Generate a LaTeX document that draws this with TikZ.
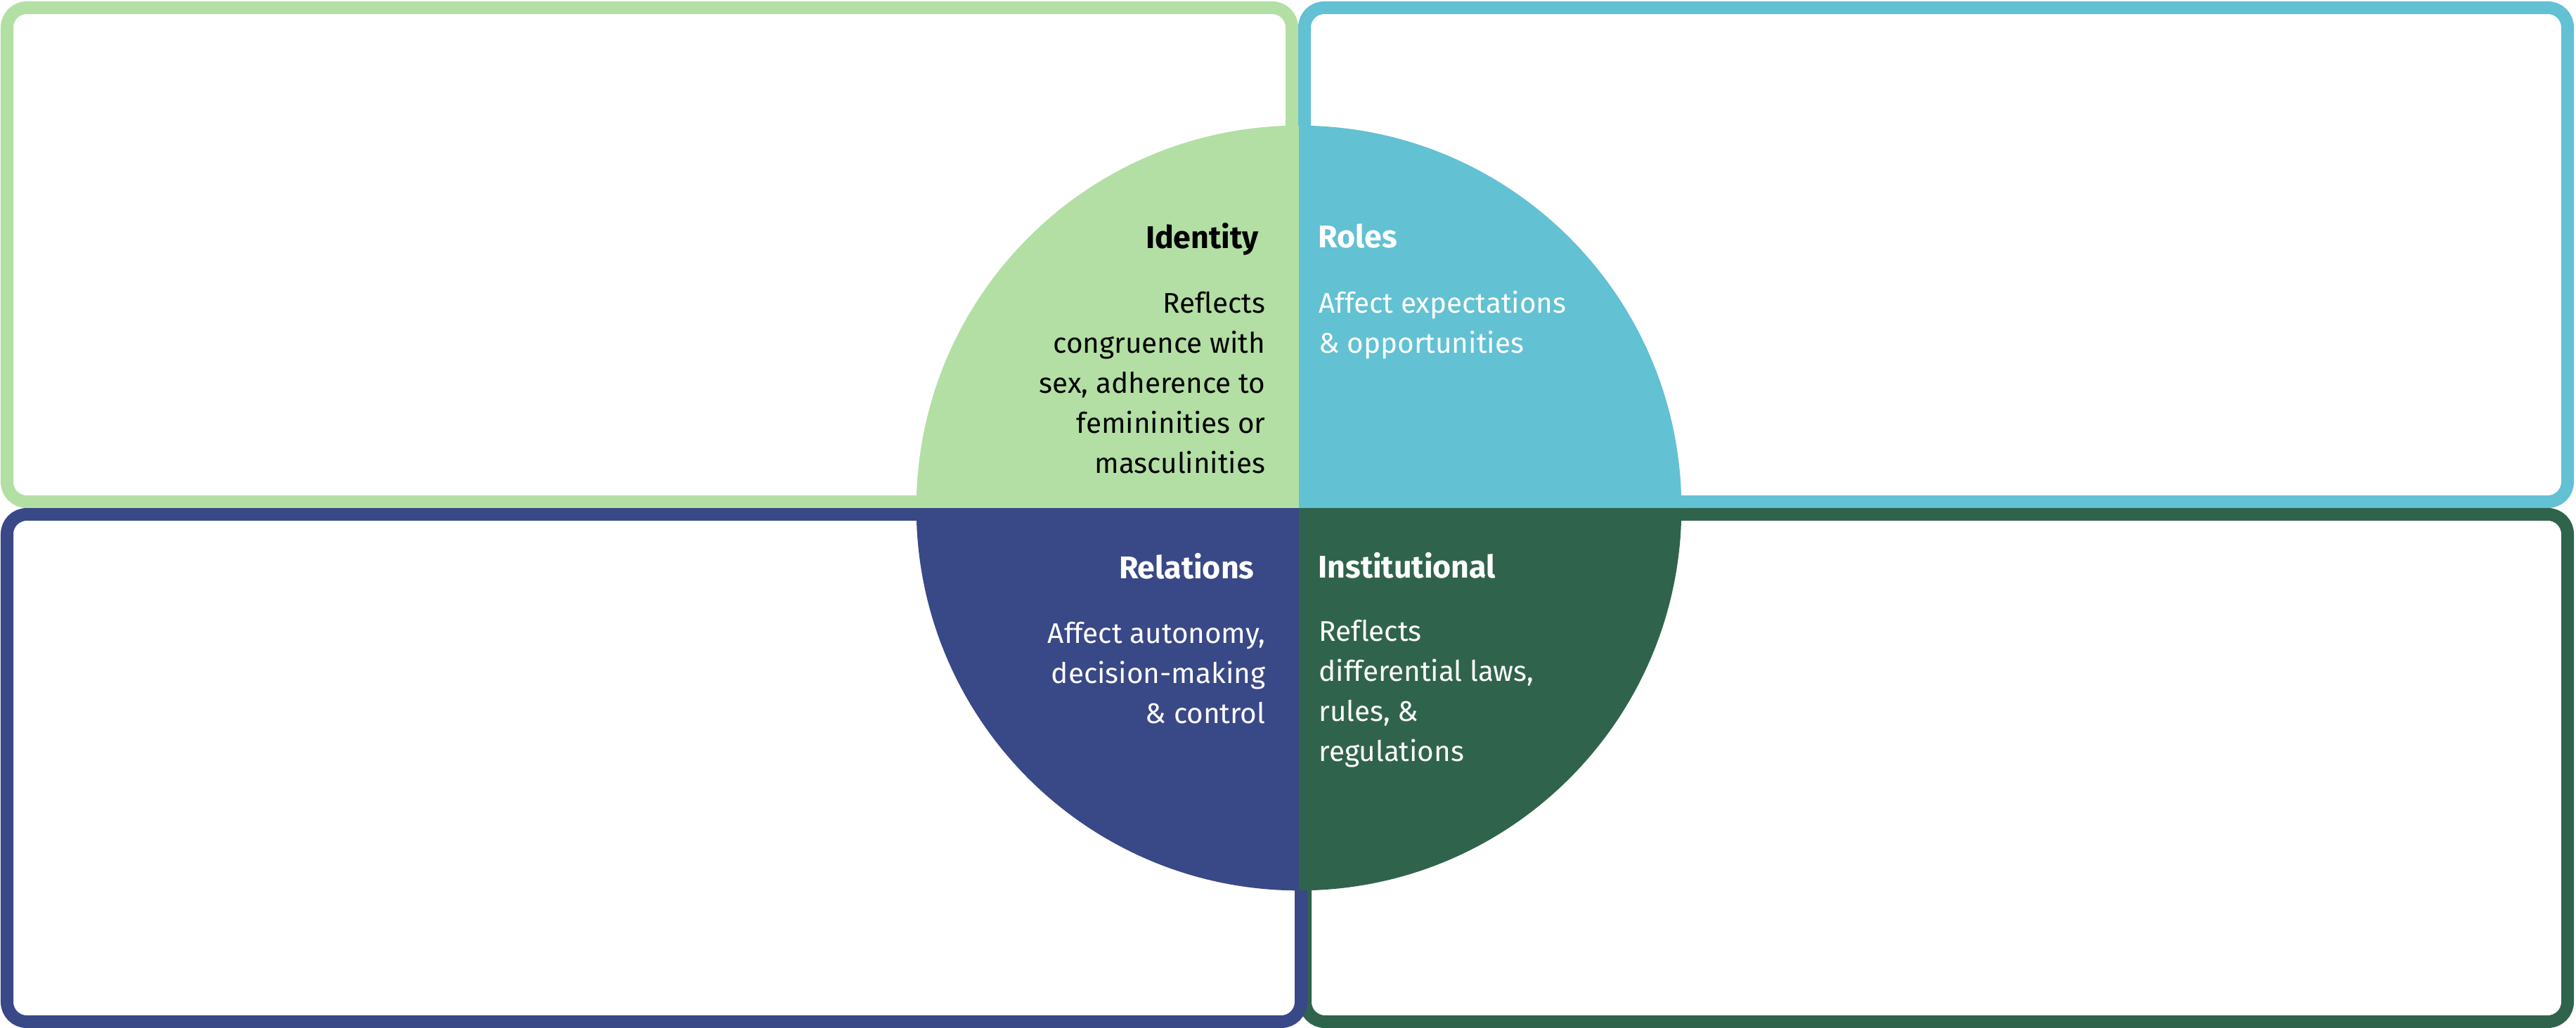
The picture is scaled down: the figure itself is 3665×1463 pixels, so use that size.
\documentclass[tikz,border=0pt]{standalone}
\usepackage{fontspec}
\setmainfont{Fira Sans}[Ligatures=NoCommon]
\usepackage{tikz}
\usetikzlibrary{positioning,calc}

\definecolor{identgreen}{HTML}{B3DFA4}
\definecolor{rolecyan}{HTML}{62C1D3}
\definecolor{relnavy}{HTML}{394886}
\definecolor{instgreen}{HTML}{30634C}

\tikzset{
  quadbox/.style={line width=0.18cm, rounded corners=0.28cm},
  headtext/.style={inner sep=0pt, font=\fontsize{12.7pt}{15pt}\selectfont\bfseries},
  bodytext/.style={inner sep=0pt, font=\fontsize{11.5pt}{16.2pt}\selectfont},
}

\begin{document}
\begin{tikzpicture}[x=0.01cm, y=-0.01cm]
    \useasboundingbox (0,0) rectangle (3665,1463);

    % Outer boxes
    \draw [quadbox, identgreen] (10,11) rectangle (1838,714);
    \draw [quadbox, rolecyan] (1856,11) rectangle (3653,714);
    \draw [quadbox, instgreen] (1857,732) rectangle (3653,1454);
    \draw [quadbox, relnavy] (10,732) rectangle (1851,1454);

    % Centre circle in four quarters
    \coordinate (ctr) at (1848,723);
    \fill [identgreen] (ctr) -- ++(180:5.44cm) arc[start angle=180, end angle=90, radius=5.44cm] -- cycle;
    \fill [rolecyan] (ctr) -- ++(90:5.44cm) arc[start angle=90, end angle=0, radius=5.44cm] -- cycle;
    \fill [relnavy] (ctr) -- ++(180:5.44cm) arc[start angle=180, end angle=270, radius=5.44cm] -- cycle;
    \fill [instgreen] (ctr) -- ++(270:5.44cm) arc[start angle=270, end angle=360, radius=5.44cm] -- cycle;

    % Identity (base anchor sits on the last line)
    \node [headtext, anchor=base east] (idhead) at (1791,353) {Identity};
    \node [bodytext, anchor=base east, align=right] (idbody) at (1801,673)
        {Reflects\\congruence with\\sex, adherence to\\femininities or\\masculinities};

    % Roles
    \node [headtext, anchor=base west, white] (rolehead) at (1875,352) {Roles};
    \node [bodytext, anchor=base west, align=left, white] (rolebody) at (1876,502)
        {Affect expectations\\\& opportunities};

    % Relations
    \node [headtext, anchor=base east, white] (relhead) at (1785,823) {Relations};
    \node [bodytext, anchor=base east, align=right, white] (relbody) at (1801,1029)
        {Affect autonomy,\\decision-making\\\& control};

    % Institutional
    \node [headtext, anchor=base west, white] (insthead) at (1875,822) {Institutional};
    \node [bodytext, anchor=base west, align=left, white] (instbody) at (1876,1083)
        {Reflects\\differential laws,\\rules, \&\\regulations};
\end{tikzpicture}
\end{document}
